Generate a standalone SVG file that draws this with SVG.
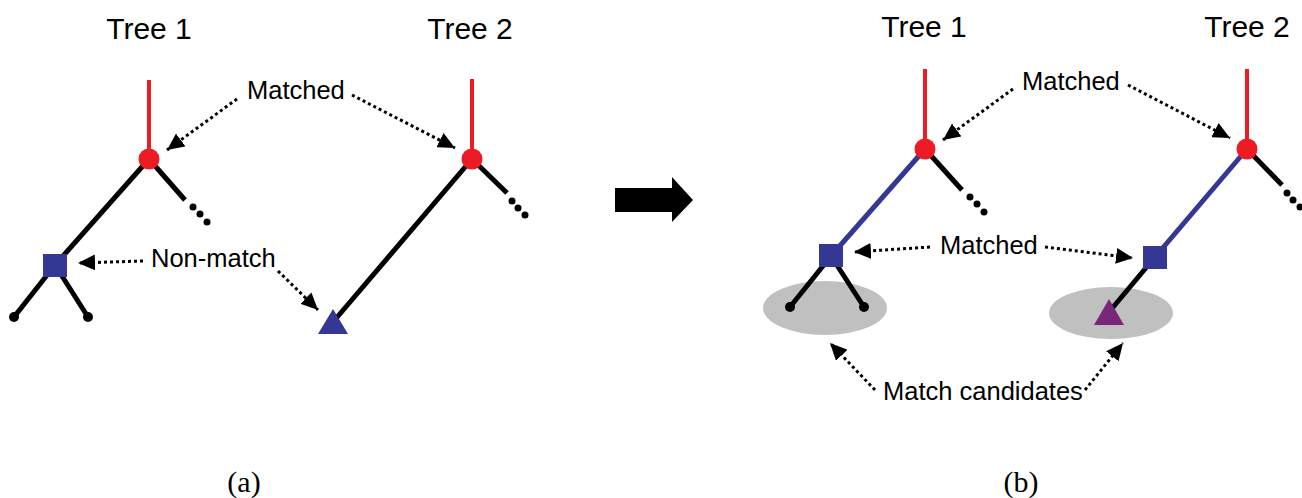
<svg xmlns="http://www.w3.org/2000/svg" width="1302" height="498" viewBox="0 0 1302 498">
  <style>
    .lbl { font-family: "Liberation Sans", Arial, sans-serif; font-size: 25.5px; fill: #000; }
    .title { font-family: "Liberation Sans", Arial, sans-serif; font-size: 30px; fill: #000; text-anchor: middle; }
    .cap { font-family: "Liberation Serif", "Times New Roman", serif; font-size: 30px; fill: #000; text-anchor: middle; }
    .edge { stroke: #000; stroke-width: 5; fill: none; }
    .root { stroke: #ed1c24; stroke-width: 4; fill: none; }
    .medge { stroke: #353794; stroke-width: 5; fill: none; }
    .redn { fill: #ed1c24; }
    .bluen { fill: #353794; }
    .leaf { fill: #000; }
    .dots { stroke: #000; stroke-width: 3; stroke-dasharray: 3 3; fill: none; marker-end: url(#ah); }
    .cand { fill: #c0c0c0; }
  </style>
  <defs>
    <marker id="ah" markerUnits="userSpaceOnUse" markerWidth="18" markerHeight="16" refX="17" refY="8" orient="auto">
      <path d="M0,0 L17,8 L0,16 z" fill="#000"/>
    </marker>
  </defs>
  <rect width="1302" height="498" fill="#fff"/>

  <!-- titles -->
  <text class="title" x="149" y="39">Tree 1</text>
  <text class="title" x="470" y="39">Tree 2</text>
  <text class="title" x="924" y="37">Tree 1</text>
  <text class="title" x="1247" y="37">Tree 2</text>

  <!-- (a) tree 1 -->
  <g id="a-tree1">
    <line class="root" x1="149" y1="80" x2="149" y2="159"/>
    <line class="edge" x1="149" y1="159" x2="55" y2="265"/>
    <line class="edge" x1="149" y1="159" x2="185" y2="200"/>
    <line class="edge" x1="55" y1="265" x2="14" y2="317"/>
    <line class="edge" x1="55" y1="265" x2="88" y2="317"/>
    <circle class="leaf" cx="193" cy="207" r="3.5"/>
    <circle class="leaf" cx="200" cy="214" r="3.5"/>
    <circle class="leaf" cx="207" cy="222" r="3.5"/>
    <circle class="leaf" cx="14" cy="317" r="5"/>
    <circle class="leaf" cx="88" cy="317" r="5"/>
    <circle class="redn" cx="149" cy="159" r="10.5"/>
    <rect class="bluen" x="43" y="254" width="24" height="23"/>
  </g>

  <!-- (a) tree 2 -->
  <g id="a-tree2">
    <line class="root" x1="472" y1="79" x2="472" y2="159"/>
    <line class="edge" x1="472" y1="159" x2="333" y2="322"/>
    <line class="edge" x1="472" y1="159" x2="507" y2="193"/>
    <circle class="leaf" cx="512" cy="201" r="3.5"/>
    <circle class="leaf" cx="518" cy="208" r="3.5"/>
    <circle class="leaf" cx="525" cy="215" r="3.5"/>
    <circle class="redn" cx="472" cy="159" r="10.5"/>
    <polygon class="bluen" points="333,309 348,334 318,334"/>
  </g>

  <!-- transition arrow -->
  <g id="step-arrow">
    <polygon points="615,188 672,188 672,177 693,200 672,222 672,212 615,212" fill="#000"/>
  </g>

  <!-- (b) tree 1 -->
  <g id="b-tree1">
    <ellipse class="cand" cx="825" cy="308" rx="62" ry="27"/>
    <line class="root" x1="925" y1="69" x2="925" y2="149"/>
    <line class="medge" x1="925" y1="149" x2="831" y2="256"/>
    <line class="edge" x1="925" y1="149" x2="962" y2="190"/>
    <line class="edge" x1="831" y1="256" x2="790" y2="307"/>
    <line class="edge" x1="831" y1="256" x2="864" y2="307"/>
    <circle class="leaf" cx="970" cy="197" r="3.5"/>
    <circle class="leaf" cx="977" cy="204" r="3.5"/>
    <circle class="leaf" cx="984" cy="212" r="3.5"/>
    <circle class="leaf" cx="790" cy="307" r="5"/>
    <circle class="leaf" cx="864" cy="307" r="5"/>
    <circle class="redn" cx="925" cy="149" r="10.5"/>
    <rect class="bluen" x="819" y="244" width="24" height="23"/>
  </g>

  <!-- (b) tree 2 -->
  <g id="b-tree2">
    <ellipse class="cand" cx="1111" cy="313" rx="62" ry="26"/>
    <line class="root" x1="1247" y1="69" x2="1247" y2="149"/>
    <line class="medge" x1="1247" y1="149" x2="1155" y2="257"/>
    <line class="edge" x1="1155" y1="257" x2="1109" y2="312"/>
    <line class="edge" x1="1247" y1="149" x2="1282" y2="185"/>
    <circle class="leaf" cx="1287" cy="193" r="3.5"/>
    <circle class="leaf" cx="1293" cy="200" r="3.5"/>
    <circle class="leaf" cx="1300" cy="207" r="3.5"/>
    <circle class="redn" cx="1247" cy="149" r="10.5"/>
    <rect class="bluen" x="1143" y="246" width="24" height="23"/>
    <polygon points="1109,299 1124,325 1094,325" fill="#7b2779"/>
  </g>

  <!-- dotted annotation arrows -->
  <g id="connectors">
    <line class="dots" x1="237" y1="99" x2="167" y2="150"/>
    <line class="dots" x1="352" y1="95" x2="455" y2="148"/>
    <line class="dots" x1="143" y1="261" x2="78" y2="263"/>
    <line class="dots" x1="278" y1="271" x2="318" y2="310"/>
    <line class="dots" x1="1013" y1="89" x2="943" y2="140"/>
    <line class="dots" x1="1128" y1="85" x2="1230" y2="138"/>
    <line class="dots" x1="930" y1="247" x2="854" y2="252"/>
    <line class="dots" x1="1045" y1="247" x2="1133" y2="258"/>
    <line class="dots" x1="875" y1="390" x2="830" y2="343"/>
    <line class="dots" x1="1085" y1="390" x2="1123" y2="343"/>
  </g>

  <!-- annotation labels -->
  <g id="labels">
    <text class="lbl" x="247" y="99">Matched</text>
    <text class="lbl" x="151" y="267">Non-match</text>
    <text class="lbl" x="1022" y="90">Matched</text>
    <text class="lbl" x="940" y="254">Matched</text>
    <text class="lbl" x="883" y="400">Match candidates</text>
  </g>

  <!-- panel captions -->
  <text class="cap" x="244" y="492">(a)</text>
  <text class="cap" x="1021" y="492">(b)</text>
</svg>
